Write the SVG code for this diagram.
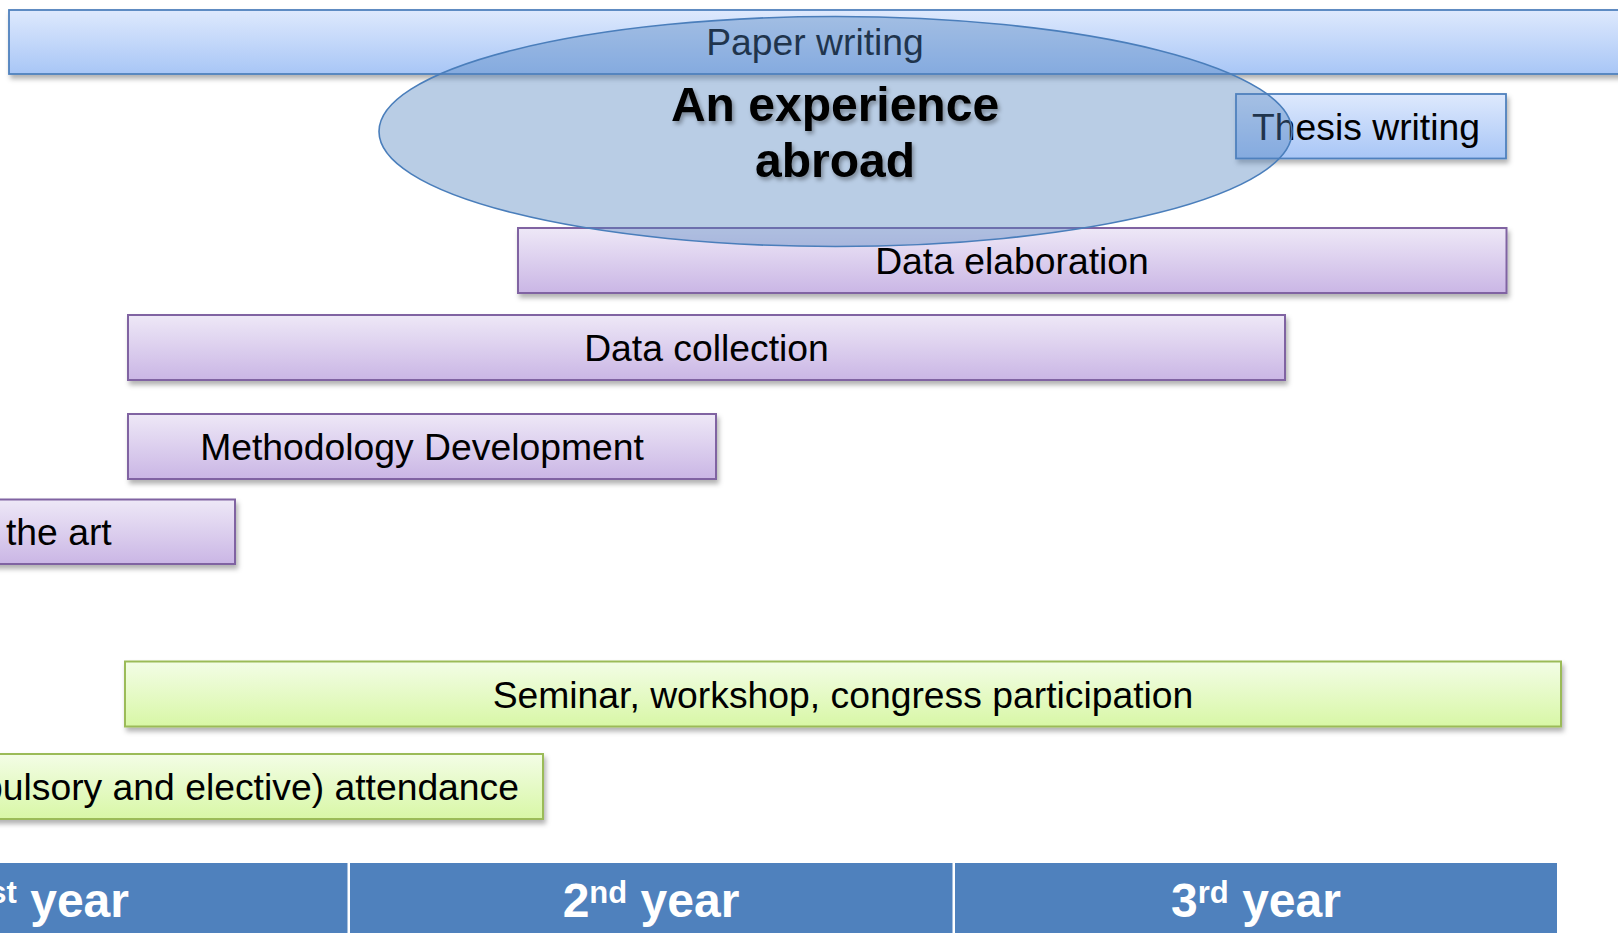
<svg xmlns="http://www.w3.org/2000/svg" width="1618" height="933" viewBox="0 0 1618 933">
<defs>
<linearGradient id="gBlue" x1="0" y1="0" x2="0" y2="1"><stop offset="0" stop-color="#dee9fd"/><stop offset="1" stop-color="#a8c6f6"/></linearGradient>
<linearGradient id="gPurple" x1="0" y1="0" x2="0" y2="1"><stop offset="0" stop-color="#eee8f7"/><stop offset="1" stop-color="#cab6e5"/></linearGradient>
<linearGradient id="gGreen" x1="0" y1="0" x2="0" y2="1"><stop offset="0" stop-color="#f3fde6"/><stop offset="1" stop-color="#d8f7a6"/></linearGradient>
<filter id="sh" x="-5%" y="-30%" width="110%" height="170%"><feDropShadow dx="2" dy="4" stdDeviation="2.5" flood-color="#000" flood-opacity="0.3"/></filter>
<filter id="tsh" x="-10%" y="-20%" width="120%" height="150%"><feDropShadow dx="2" dy="3" stdDeviation="2" flood-color="#000" flood-opacity="0.35"/></filter>
</defs>
<style>
.t{font-family:"Liberation Sans",Arial,sans-serif;font-size:37.3px;fill:#000;text-anchor:middle}
.blue{fill:url(#gBlue);stroke:#4f81bd;stroke-width:1.8}
.purple{fill:url(#gPurple);stroke:#8064a2;stroke-width:2}
.green{fill:url(#gGreen);stroke:#9bbb59;stroke-width:2}
.yr{font-family:"Liberation Sans",Arial,sans-serif;font-weight:bold;font-size:48px;fill:#fff}
.big{font-family:"Liberation Sans",Arial,sans-serif;font-weight:bold;font-size:48px;fill:#000;text-anchor:middle}
</style>
<rect width="1618" height="933" fill="#fff"/>
<g id="paper-writing">
<rect class="blue" x="9" y="10" width="1640" height="64" filter="url(#sh)"/>
<text class="t" x="815" y="55">Paper writing</text>
</g>
<g id="thesis-writing">
<rect class="blue" x="1236" y="94" width="270" height="64.5" filter="url(#sh)"/>
<text class="t" x="1366" y="140">Thesis writing</text>
</g>
<g id="data-elaboration">
<rect class="purple" x="518" y="228" width="988.5" height="65" filter="url(#sh)"/>
<text class="t" x="1012" y="274">Data elaboration</text>
</g>
<g id="data-collection">
<rect class="purple" x="128" y="315" width="1157" height="65" filter="url(#sh)"/>
<text class="t" x="706.5" y="361">Data collection</text>
</g>
<g id="methodology">
<rect class="purple" x="128" y="414" width="588" height="65" filter="url(#sh)"/>
<text class="t" x="422" y="460">Methodology Development</text>
</g>
<g id="state-of-the-art">
<rect class="purple" x="-20" y="499.5" width="255" height="64.5" filter="url(#sh)"/>
<text class="t" x="6" y="545" style="text-anchor:start">the art</text>
</g>
<g id="seminar">
<rect class="green" x="125" y="661.5" width="1436" height="65" filter="url(#sh)"/>
<text class="t" x="843" y="708">Seminar, workshop, congress participation</text>
</g>
<g id="courses">
<rect class="green" x="-20" y="754" width="563" height="65" filter="url(#sh)"/>
<text class="t" x="519" y="800" style="text-anchor:end">pulsory and elective) attendance</text>
</g>
<g id="abroad">
<ellipse cx="835.5" cy="131.5" rx="456.5" ry="115" fill="#4f81bd" fill-opacity="0.4" stroke="#4a7ebb" stroke-width="1.6"/>
<text class="big" x="835" y="121" filter="url(#tsh)">An experience</text>
<text class="big" x="835" y="176.5" filter="url(#tsh)">abroad</text>
</g>
<g id="years">
<rect x="-10" y="863" width="1567" height="80" fill="#4f81bd"/>
<rect x="347.5" y="863" width="2.5" height="80" fill="#fff"/>
<rect x="952.5" y="863" width="2.5" height="80" fill="#fff"/>
<text class="yr" x="129" y="917" text-anchor="end"><tspan font-size="31" dy="-14">st</tspan><tspan dy="14"> year</tspan></text>
<text class="yr" x="651" y="917" text-anchor="middle">2<tspan font-size="31" dy="-14">nd</tspan><tspan dy="14"> year</tspan></text>
<text class="yr" x="1256" y="917" text-anchor="middle">3<tspan font-size="31" dy="-14">rd</tspan><tspan dy="14"> year</tspan></text>
</g>
<g id="connectors"></g>
</svg>
